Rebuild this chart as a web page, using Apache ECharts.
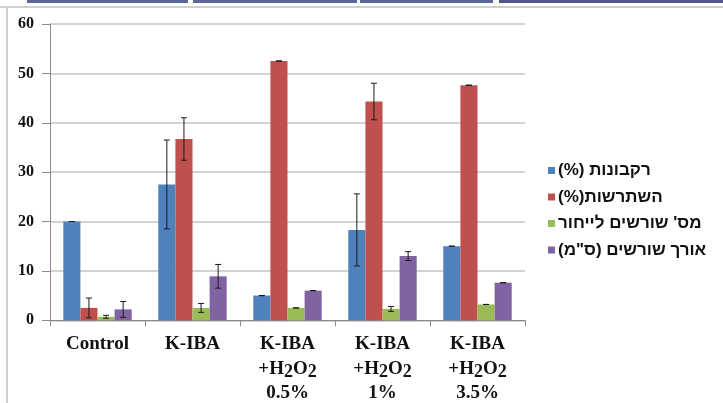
<!DOCTYPE html>
<html><head><meta charset="utf-8">
<script src="https://cdn.jsdelivr.net/npm/echarts@6/dist/echarts.min.js"></script>
<style>html,body{margin:0;padding:0;background:#fff}#c{width:723px;height:403px}</style>
</head><body><div id="c"></div>
<script>
const categories = ['Control', 'K-IBA', 'K-IBA\n+H2O2\n0.5%', 'K-IBA\n+H2O2\n1%', 'K-IBA\n+H2O2\n3.5%'];
const seriesNames = ['רקבונות (%)', 'השתרשות(%)', "מס' שורשים לייחור", 'אורך שורשים (ס"מ)'];
const decay = [20, 27.5, 5, 18.3, 15];
const rooting = [2.5, 36.7, 52.5, 44.3, 47.6];
const rootsPerCutting = [0.7, 2.5, 2.5, 2.3, 3.2];
const rootLength = [2.2, 8.9, 6, 13, 7.6];
const decayErr = [0, 9, 0, 7.3, 0];
const rootingErr = [2, 4.3, 0, 3.7, 0];
const rootsErr = [0.3, 0.9, 0, 0.5, 0];
const lengthErr = [1.6, 2.4, 0, 0.9, 0];
const yMin = 0, yMax = 60, yStep = 10;

const values = [decay, rooting, rootsPerCutting, rootLength];
const errors = [decayErr, rootingErr, rootsErr, lengthErr];
const colors = ['#4F81BD', '#C0504D', '#9BBB59', '#8064A2'];
const RLE = '\u202B', PDF = '\u202C';
const names = seriesNames.map(n => RLE + n + PDF);
const GAP = 0.28;

function catFormatter(v) {
  return v.split('\n').map(line => '{a|' + line.replace(/([HO])2/g, '$1}{s|2}{a|') + '}').join('\n');
}

function makeErr(idx) {
  return function (params, api) {
    const c = api.value(0), v = api.value(1), e = api.value(2);
    const band = api.size([1, 0])[0];
    const bw = band * (1 - GAP) / 4;
    const x = api.coord([c, v])[0] + (idx - 1.5) * bw;
    const yTop = api.coord([c, v + e])[1], yBot = api.coord([c, v - e])[1];
    const cap = 3;
    const style = { stroke: '#1a1a1a', lineWidth: 1 };
    return { type: 'group', children: [
      { type: 'line', shape: { x1: x, y1: yTop, x2: x, y2: yBot }, style },
      { type: 'line', shape: { x1: x - cap, y1: yTop, x2: x + cap, y2: yTop }, style },
      { type: 'line', shape: { x1: x - cap, y1: yBot, x2: x + cap, y2: yBot }, style }
    ] };
  };
}

const series = [];
values.forEach((arr, i) => {
  series.push({ name: names[i], type: 'bar', data: arr, barGap: '0%', barCategoryGap: (GAP * 100) + '%',
    itemStyle: { color: colors[i] }, z: 2 });
});
values.forEach((arr, i) => {
  series.push({ name: 'err' + i, type: 'custom', renderItem: makeErr(i),
    data: arr.map((v, j) => [j, v, errors[i][j]]), encode: { x: 0, y: 1 }, z: 5, silent: true });
});

const chart = echarts.init(document.getElementById('c'), null, { renderer: 'canvas' });
chart.setOption({
  animation: false,
  backgroundColor: '#fff',
  grid: { left: 50, right: 198, top: 24, bottom: 81, containLabel: false },
  legend: {
    data: names, orient: 'vertical', left: 543, top: 157, itemWidth: 7, itemHeight: 7, itemGap: 9.5,
    icon: 'rect',
    textStyle: { fontFamily: 'Liberation Sans, Arial, sans-serif', fontSize: 17, fontWeight: 'bold', color: '#111', padding: [0, 0, 0, -2] }
  },
  xAxis: {
    type: 'category', data: categories,
    axisLine: { lineStyle: { color: '#8a8a8a', width: 1 } },
    axisTick: { show: true, length: 6, lineStyle: { color: '#8a8a8a' } },
    axisLabel: {
      interval: 0, margin: 12, formatter: catFormatter,
      rich: {
        a: { fontFamily: 'Liberation Serif, Times New Roman, serif', fontWeight: 'bold', fontSize: 19, lineHeight: 24.5, color: '#111' },
        s: { fontFamily: 'Liberation Serif, Times New Roman, serif', fontWeight: 'bold', fontSize: 18, lineHeight: 14, verticalAlign: 'bottom', color: '#111' }
      }
    }
  },
  yAxis: {
    type: 'value', min: yMin, max: yMax, interval: yStep,
    axisLine: { show: true, lineStyle: { color: '#8a8a8a', width: 1 } },
    axisTick: { show: true, length: 8, lineStyle: { color: '#8a8a8a' } },
    axisLabel: { margin: 16, fontFamily: 'Liberation Serif, Times New Roman, serif', fontWeight: 'bold', fontSize: 16, color: '#111' },
    splitLine: { lineStyle: { color: '#c4c4c4', width: 1.5 } }
  },
  graphic: [
    { type: 'rect', shape: { x: 27, y: 0, width: 161, height: 3 }, style: { fill: '#5c6699' } },
    { type: 'rect', shape: { x: 193, y: 0, width: 164, height: 3 }, style: { fill: '#5c6699' } },
    { type: 'rect', shape: { x: 360, y: 0, width: 133, height: 3 }, style: { fill: '#5c6699' } },
    { type: 'rect', shape: { x: 499, y: 0, width: 224, height: 3 }, style: { fill: '#4f5889' } },
    { type: 'line', shape: { x1: 0, y1: 7, x2: 723, y2: 7 }, style: { stroke: '#cfcfcf', lineWidth: 2 } },
    { type: 'line', shape: { x1: 7, y1: 7, x2: 7, y2: 403 }, style: { stroke: '#cfcfcf', lineWidth: 2 } }
  ],
  series
});
</script></body></html>
